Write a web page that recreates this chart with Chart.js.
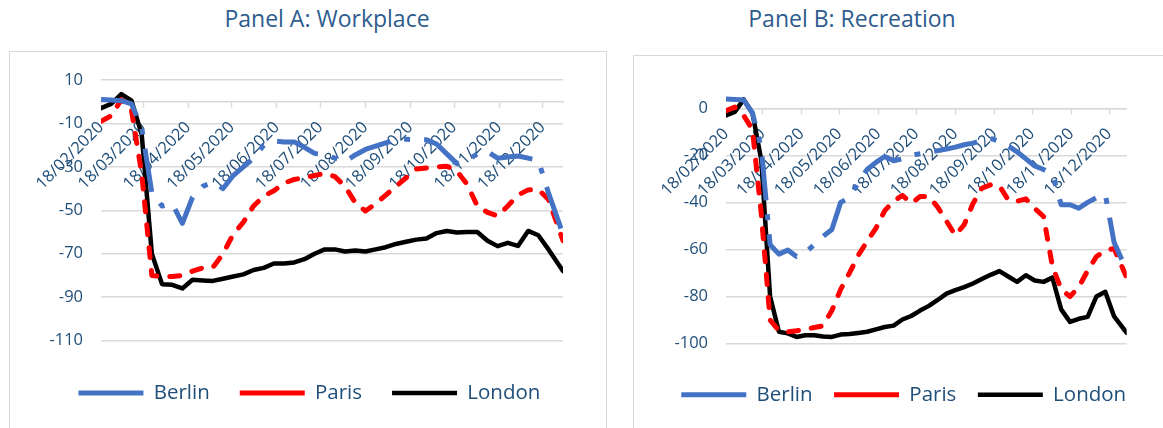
<!DOCTYPE html>
<html>
<head>
<meta charset="utf-8">
<script src="https://cdn.jsdelivr.net/npm/chart.js@4.4.1/dist/chart.umd.min.js"></script>
<style>
  html, body { margin: 0; padding: 0; background: #fff; overflow: hidden; width: 1163px; height: 428px; }
  .title { position: absolute; top: 4px; font-family: "Open Sans", sans-serif; font-size: 23px; line-height: 28px;
           color: #2E5C8E; white-space: nowrap; transform: translateX(-50%); }
  .panel { position: absolute; border: 1px solid #d9d9d9; background: #fff; }
  .panel canvas { display: block; }
</style>
</head>
<body>
<div class="title" style="left:327px">Panel A: Workplace</div>
<div class="title" style="left:852px">Panel B: Recreation</div>
<div class="panel" style="left:9px;top:51px;width:596px;height:400px"><canvas id="panelA" width="596" height="376"></canvas></div>
<div class="panel" style="left:633px;top:55px;width:596px;height:400px"><canvas id="panelB" width="596" height="372"></canvas></div>
<script>
// Weekly observation dates
const dates = ['18/02/2020','25/02/2020','03/03/2020','10/03/2020','17/03/2020','24/03/2020','31/03/2020',
  '07/04/2020','14/04/2020','21/04/2020','28/04/2020','05/05/2020','12/05/2020','19/05/2020','26/05/2020',
  '02/06/2020','09/06/2020','16/06/2020','23/06/2020','30/06/2020','07/07/2020','14/07/2020','21/07/2020',
  '28/07/2020','04/08/2020','11/08/2020','18/08/2020','25/08/2020','01/09/2020','08/09/2020','15/09/2020',
  '22/09/2020','29/09/2020','06/10/2020','13/10/2020','20/10/2020','27/10/2020','03/11/2020','10/11/2020',
  '17/11/2020','24/11/2020','01/12/2020','08/12/2020','15/12/2020','22/12/2020','01/01/2021'];

// Monthly date-axis labels
const monthTicks = ['18/02/2020','18/03/2020','18/04/2020','18/05/2020','18/06/2020','18/07/2020',
  '18/08/2020','18/09/2020','18/10/2020','18/11/2020','18/12/2020'];
const axisEnd = '01/01/2021';

// Panel A: Workplace (% change from baseline)
const berlinA = [1, 0.8, 0.5, -1, -12, -42, -48, -47, -56, -44, -39, -37, -40, -34, -30, -26, -20, -18, -18.5, -18.5,
  -21, -23.8, -24.5, -26, -27.5, -24.5, -22, -20.5, -19, -17.5, -17.3, -17.5, -17.5, -19.5, -24, -28.5, -27, -24,
  -23, -26, -25.5, -25, -26, -27, -42, -61];
const parisA = [-9, -6.5, 1, -4, -33, -80, -80.5, -80.5, -80, -78, -76.5, -76.3, -70, -61, -55.5, -48, -43.5, -41,
  -37.5, -35.8, -35, -34, -33, -34.5, -39, -46.5, -50.3, -47, -43, -39, -35, -31, -30.5, -30, -29.7, -32, -38, -48,
  -51, -52.6, -48, -43, -40.6, -40.4, -45, -64];
const londonA = [-3, -1, 3.5, 0.5, -15, -70, -84, -84.3, -86, -82, -82.3, -82.5, -81.5, -80.5, -79.5, -77.5, -76.5,
  -74.5, -74.5, -74, -72.5, -70, -68, -68, -69, -68.5, -69, -68, -67, -65.5, -64.5, -63.5, -63, -60.5, -59.5, -60.2,
  -60, -60, -64, -66.5, -65, -66.4, -59.5, -61.5, -68, -78];

// Panel B: Recreation (% change from baseline)
const berlinB = [4, 3.8, 3.5, -2, -17, -58, -62, -60.3, -63, -61.3, -58, -54.5, -51.5, -40, -38, -31.5, -26, -23,
  -20.5, -22.3, -21.5, -20, -19.3, -18.7, -18, -17.3, -16.5, -15.5, -14.8, -13.8, -12.8, -14, -16, -18.5, -21.5,
  -24.5, -26, -28, -41, -41, -42.5, -40, -38, -36.5, -57, -69];
const parisB = [-1, 0.5, -3, -9, -45, -90, -94.5, -95, -94.6, -94, -93.2, -92.5, -86, -77, -70, -62.5, -56.5, -51,
  -43.5, -39.5, -37, -40.4, -37.5, -37.5, -42, -48, -54, -49.5, -40.5, -34, -32.5, -33, -39, -39.5, -38.5, -42.5,
  -46, -67, -77, -80, -76, -69, -63, -60.5, -59.6, -72];
const londonB = [-3, -1.5, 3.8, -2, -22, -80, -95, -95.7, -97.2, -96.5, -96.5, -97, -97.2, -96.2, -96, -95.5, -95,
  -94, -93, -92.4, -89.8, -88.3, -86, -84, -81.5, -78.8, -77.3, -76, -74.5, -72.6, -70.8, -69.2, -71.5, -73.8, -71,
  -73.2, -73.8, -72, -85.5, -90.8, -89.5, -88.7, -80, -78, -88.5, -95.5];

// Value-axis gridlines
const yTicksA = [-110, -90, -70, -50, -30, -10, 10];
const yTicksB = [-100, -80, -60, -40, -20, 0];

const FONT = '"Open Sans", "Liberation Sans", sans-serif';
const TEXT = '#1F4E79';
const GRID = '#d9d9d9';

function dayOffset(s) {
  const [d, m, y] = s.split('/').map(Number);
  return Math.round((Date.UTC(y, m - 1, d) - Date.UTC(2020, 1, 18)) / 86400000);
}
function series(values) {
  return values.map((v, i) => ({ x: dayOffset(dates[i]), y: v }));
}

function build(id, p) {
  return new Chart(document.getElementById(id), {
    type: 'line',
    data: {
      datasets: [
        { label: 'Berlin', data: series(p.berlin), borderColor: '#4472C4', backgroundColor: '#4472C4',
          borderWidth: 5, borderDash: [44, 14, 6, 14], borderCapStyle: 'butt' },
        { label: 'Paris', data: series(p.paris), borderColor: '#FF0000', backgroundColor: '#FF0000',
          borderWidth: 5, borderDash: [10, 13], borderCapStyle: 'round' },
        { label: 'London', data: series(p.london), borderColor: '#000000', backgroundColor: '#000000',
          borderWidth: 4.5, borderCapStyle: 'round' }
      ]
    },
    options: {
      responsive: false,
      animation: false,
      layout: { padding: p.padding },
      elements: { point: { radius: 0 }, line: { tension: 0, borderJoinStyle: 'round' } },
      plugins: {
        legend: {
          position: 'bottom',
          title: { display: true, text: '', font: { size: 1 }, padding: { top: p.legendTop, bottom: 0 } },
          labels: { usePointStyle: true, pointStyle: 'line', pointStyleWidth: 65, boxHeight: 20,
                    padding: p.legendGap, color: TEXT, font: { family: FONT, size: 20.5 } }
        },
        tooltip: { enabled: false }
      },
      scales: {
        x: {
          type: 'linear', min: 0, max: dayOffset(axisEnd), position: { y: 0 },
          afterBuildTicks: s => { s.ticks = monthTicks.map(t => ({ value: dayOffset(t) })); },
          ticks: { autoSkip: false, minRotation: 45, maxRotation: 45, padding: 11, color: TEXT,
                   font: { family: FONT, size: 16.5 }, callback: (v, i) => monthTicks[i] },
          grid: { drawOnChartArea: false, drawTicks: true, tickLength: 5, tickColor: GRID, tickWidth: 1.5 },
          border: { display: true, color: GRID, width: 1.5 }
        },
        y: {
          min: p.yTicks[0], max: p.yMax, bounds: 'data',
          afterBuildTicks: s => { s.ticks = p.yTicks.map(v => ({ value: v })); },
          afterFit: s => { s.width = p.yWidth; },
          ticks: { padding: 18, color: TEXT, font: { family: FONT, size: 16.5 } },
          grid: { color: GRID, lineWidth: 1.5, drawTicks: false },
          border: { display: false }
        },
        spacer: {
          type: 'linear', position: 'right', display: true,
          afterFit: s => { s.width = p.rightWidth; },
          ticks: { display: false }, grid: { display: false }, border: { display: false }
        }
      }
    }
  });
}

function draw() {
  build('panelA', {
    berlin: berlinA, paris: parisA, london: londonA, yTicks: yTicksA, yMax: 10,
    padding: { left: 29.4, right: 26.6, top: 28, bottom: 14.7 },
    yWidth: 61.6, rightWidth: 16.4, legendGap: 30, legendTop: 11
  });
  build('panelB', {
    berlin: berlinB, paris: parisB, london: londonB, yTicks: yTicksB, yMax: 10,
    padding: { left: 9.7, right: 66.3, top: 28.8, bottom: 13 },
    yWidth: 82.3, rightWidth: 37, legendGap: 21.5, legendTop: 18.3
  });
}

if (document.fonts && document.fonts.load) {
  Promise.all([document.fonts.load('16px "Open Sans"'), document.fonts.load('20px "Open Sans"')])
    .then(draw, draw);
} else {
  draw();
}
</script>
</body>
</html>
